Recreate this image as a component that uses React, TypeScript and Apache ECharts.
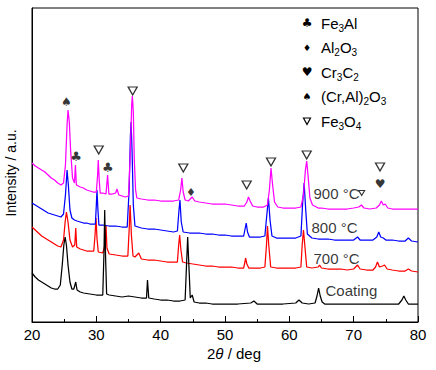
import React, { useEffect, useRef } from "react";
import * as echarts from "echarts";

const FONT = "'Liberation Sans', Arial, sans-serif";
const GLYPH_FONT = "'DejaVu Sans', sans-serif";

// 2θ (deg), intensity (a.u., offset traces)
const trace900: [number, number][] = [[20,159],[20.5,156],[21,154],[21.5,152],[22,150],[22.5,147],[23,144],[23.5,142],[24,139],[24.5,137],[24.9,139],[25.2,157],[25.45,197],[25.6,212],[25.8,200],[26,172],[26.3,144],[26.6,139],[26.75,157],[26.9,137],[27.5,135],[28,134],[28.5,132],[29,131],[29.5,130],[30,130],[30.2,147],[30.3,162],[30.45,142],[30.6,129],[31,129],[31.5,128],[31.75,147],[31.95,128],[32.5,128],[33,129],[33.2,133],[33.5,127],[34,126],[34.5,125],[35,126],[35.3,172],[35.5,218],[35.6,226],[35.75,210],[35.9,162],[36.1,132],[36.3,124],[37,123],[38,122],[39,122],[40,121],[41,121],[42,121],[42.8,122],[43.1,132],[43.3,144],[43.5,130],[43.8,122],[44.3,121],[44.9,125],[45.3,121],[46,120],[47,119],[48,118],[49,118],[50,118],[51,117],[52,116],[53,116],[53.4,120],[53.65,125],[53.9,121],[54.3,116],[55,115],[56,115],[56.6,117],[56.9,132],[57.15,154],[57.4,137],[57.7,120],[58.2,115],[59,114],[60,114],[61,114],[61.8,115],[62.2,127],[62.5,152],[62.7,161],[62.9,147],[63.2,124],[63.6,117],[64.5,114],[65,114],[66,113],[67,113],[68,113],[69,113],[70,114],[70.8,115],[71.2,117],[71.6,114],[72.5,113],[73.5,114],[74,117],[74.3,121],[74.6,117],[74.9,118],[75.3,114],[76,113],[77,113],[78,113],[79,113],[80,113]];

const trace800: [number, number][] = [[20,119],[20.5,117],[21,115],[21.5,113],[22,111],[22.5,109],[23,108],[23.5,107],[24,106],[24.5,105],[24.9,108],[25.2,127],[25.45,152],[25.65,137],[25.9,112],[26.2,104],[26.6,102],[27,101],[27.5,100],[28,99],[28.5,99],[29,98],[29.5,98],[29.85,98],[30,117],[30.1,132],[30.25,112],[30.4,97],[31,97],[32,96],[33,96],[34,95],[34.8,95],[35.1,132],[35.3,187],[35.4,200],[35.55,172],[35.75,117],[36,96],[37,94],[38,93],[39,93],[40,92],[41,91],[42,90],[42.6,91],[42.85,112],[43,122],[43.2,100],[43.5,90],[44.5,89],[45,89],[46,89],[47,88],[48,88],[49,87],[50,87],[51,86],[52,86],[52.9,86],[53.15,94],[53.3,99],[53.5,90],[53.8,85],[54.5,85],[55.5,85],[56.2,86],[56.5,107],[56.75,124],[57,102],[57.3,86],[58,84],[59,84],[60,84],[61,84],[61.8,86],[62.05,117],[62.3,139],[62.55,112],[62.8,88],[63.5,84],[64.5,83],[65,83],[66,83],[67,82],[68,82],[69,82],[70,82],[70.6,85],[71,82],[72,82],[73,82],[73.6,85],[73.9,90],[74.2,85],[74.6,84],[75,82],[76,82],[77,81],[78,81],[78.5,84],[79,81],[80,80]];

const trace700: [number, number][] = [[20,95],[20.5,92],[21,89],[21.5,86],[22,84],[22.5,82],[23,80],[23.5,78],[24,76],[24.5,75],[24.9,82],[25.15,100],[25.35,110],[25.6,100],[25.9,82],[26.3,75],[26.65,77],[26.8,94],[26.95,75],[27.5,73],[28,72],[28.5,71],[29,71],[29.6,71],[29.8,87],[29.95,104],[30.1,84],[30.3,70],[31,69],[31.35,77],[31.5,97],[31.65,74],[32,68],[33,67],[34,66],[34.9,66],[35.1,92],[35.25,117],[35.45,87],[35.7,66],[36,65],[36.6,69],[37,63],[38,62],[39,62],[40,61],[41,60],[42,60],[42.6,60],[42.8,77],[42.95,87],[43.15,72],[43.4,60],[44,59],[45,58],[46,57],[47,56],[48,56],[49,55],[50,55],[51,55],[52,54],[52.9,54],[53.1,60],[53.2,64],[53.4,58],[53.7,54],[54.5,54],[55.5,54],[56.2,55],[56.45,77],[56.6,96],[56.8,77],[57.1,55],[58,54],[59,54],[60,54],[61,54],[61.8,55],[62,77],[62.2,92],[62.4,77],[62.7,55],[63.5,54],[64.5,55],[64.7,57],[65,54],[66,53],[67,53],[68,53],[69,52],[70,53],[70.6,57],[71,53],[72,52],[73,52],[73.4,55],[73.7,60],[74,55],[74.5,56],[74.8,57],[75.2,53],[76,52],[77,51],[78,51],[78.5,53],[79,51],[80,50]];

const traceCoating: [number, number][] = [[20,49],[20.5,45],[21,42],[21.5,40],[22,38],[22.5,36],[23,34],[23.5,33],[24,33],[24.4,37],[24.7,57],[24.95,77],[25.15,85],[25.35,77],[25.6,57],[25.9,40],[26.2,33],[26.5,33],[26.8,40],[27,32],[27.5,30],[28,29],[29,28],[30,27],[31,27],[31.2,72],[31.3,112],[31.45,62],[31.6,28],[32,27],[33,26],[34,25],[35,26],[36,25],[37,24],[37.8,24],[37.95,42],[38.15,24],[39,23],[40,22],[41,22],[42,21],[43,21],[43.8,22],[44.05,62],[44.2,85],[44.35,62],[44.6,24],[44.9,27],[45.2,20],[46,19],[47,19],[48,18],[50,18],[52,18],[54,19],[54.5,21],[55,18],[57,18],[59,18],[61,19],[61.5,22],[62,19],[63,18],[64,19],[64.3,26],[64.55,34],[64.8,26],[65.1,20],[65.5,18],[67,18],[69,18],[71,18],[73,18],[75,18],[77,18],[77.5,22],[77.8,26],[78.1,22],[78.5,18],[80,18]];

// phase markers (2θ, height)
const markFe3Al: [number, number][] = [[26.85,166],[31.77,155]];
const markCrAl2O3: [number, number][] = [[25.35,220]];
const markAl2O3: [number, number][] = [[44.72,130]];
const markFe3O4: [number, number][] = [[30.37,172],[35.65,231],[43.52,154],[53.37,137],[57.15,160],[62.7,167],[74.1,155]];
const markFe3O4Small: [number, number][] = [[71.25,129]];
const markCr3C2: [number, number][] = [[74.1,138]];

const sampleLabels: { name: string; value: [number, number] }[] = [
  { name: "900 °C", value: [63.68, 129] },
  { name: "800 °C", value: [63.37, 95] },
  { name: "700 °C", value: [63.68, 64] },
  { name: "Coating", value: [65.55, 32] },
];

const legendRows: { glyph: string; size: number; text: string }[] = [
  { glyph: "♣", size: 12, text: "{n|Fe}{s|3}{n|Al}" },
  { glyph: "♦", size: 9, text: "{n|Al}{s|2}{n|O}{s|3}" },
  { glyph: "♥", size: 12, text: "{n|Cr}{s|3}{n|C}{s|2}" },
  { glyph: "♠", size: 10, text: "{n|(Cr,Al)}{s|2}{n|O}{s|3}" },
  { glyph: "", size: 10, text: "{n|Fe}{s|3}{n|O}{s|4}" },
];

const xTicks = { min: 20, max: 80, interval: 10 };

export default function App() {
  const ref = useRef<HTMLDivElement>(null);
  useEffect(() => {
    const chart = echarts.init(ref.current!, null, { renderer: "svg" });
    const line = (name: string, data: [number, number][], color: string, z: number) => ({
      type: "line",
      name,
      data,
      symbol: "none",
      showSymbol: false,
      silent: true,
      z,
      lineStyle: { color, width: 1.25 },
      itemStyle: { color },
    });
    const glyphs = (glyph: string, data: [number, number][], size: number) => ({
      type: "scatter",
      data,
      symbolSize: 1,
      silent: true,
      z: 10,
      itemStyle: { color: "rgba(0,0,0,0)" },
      label: {
        show: true,
        position: "inside",
        formatter: glyph,
        fontFamily: GLYPH_FONT,
        fontSize: size,
        color: "#000",
      },
    });
    const triangles = (data: [number, number][], w: number, h: number, bw: number) => ({
      type: "scatter",
      data,
      symbol: "triangle",
      symbolRotate: 180,
      symbolSize: [w, h],
      silent: true,
      z: 10,
      itemStyle: { color: "#fff", borderColor: "#000", borderWidth: bw },
    });
    const rich = {
      n: { fontSize: 15, fontFamily: FONT, color: "#000" },
      s: { fontSize: 10, fontFamily: FONT, color: "#000", padding: [10, 0, 0, 0] },
    };
    const legendChildren: any[] = [];
    legendRows.forEach((r, i) => {
      const y = 23 + i * 24.5;
      if (r.glyph) {
        legendChildren.push({
          type: "text",
          x: 307,
          y,
          style: { text: r.glyph, font: `${r.size}px ${GLYPH_FONT}`, fill: "#000", align: "center", verticalAlign: "middle" },
        });
      } else {
        legendChildren.push({
          type: "polygon",
          shape: { points: [[303.5, y - 3], [310.5, y - 3], [307, y + 3.5]] },
          style: { fill: "#fff", stroke: "#000", lineWidth: 1.2 },
        });
      }
      legendChildren.push({
        type: "text",
        x: 321,
        y,
        style: { text: r.text, rich, fill: "#000", align: "left", verticalAlign: "middle" },
      });
    });

    chart.setOption({
      animation: false,
      backgroundColor: "#fff",
      grid: { left: 32, top: 8, right: 18, bottom: 48, show: true, borderColor: "#000", borderWidth: 1 },
      xAxis: {
        type: "value",
        min: xTicks.min,
        max: xTicks.max,
        interval: xTicks.interval,
        axisLine: { show: true, lineStyle: { color: "#000", width: 1 } },
        axisTick: { show: true, inside: true, length: 6, lineStyle: { color: "#000" } },
        minorTick: { show: true, splitNumber: 2, length: 3, lineStyle: { color: "#000" } },
        axisLabel: { color: "#000", fontSize: 15, fontFamily: FONT, margin: 5 },
        splitLine: { show: false },
      },
      yAxis: {
        type: "value",
        min: 0,
        max: 314,
        axisLine: { show: true, lineStyle: { color: "#000", width: 1 } },
        axisTick: { show: false },
        axisLabel: { show: false },
        splitLine: { show: false },
      },
      graphic: [
        {
          type: "text",
          x: 11,
          y: 173,
          rotation: Math.PI / 2,
          style: { text: "Intensity / a.u.", font: `14px ${FONT}`, fill: "#000", align: "center", verticalAlign: "middle" },
        },
        {
          type: "text",
          x: 207,
          y: 353,
          style: {
            text: "{n|2}{i|θ}{n| / deg}",
            rich: {
              n: { fontSize: 15, fontFamily: FONT, color: "#000" },
              i: { fontSize: 15, fontFamily: FONT, fontStyle: "italic", color: "#000" },
            },
            align: "left",
            verticalAlign: "middle",
          },
        },
        { type: "group", children: legendChildren },
      ],
      series: [
        line("700 °C", trace700, "#ff0000", 2),
        line("800 °C", trace800, "#0000ff", 3),
        line("900 °C", trace900, "#ff00ff", 4),
        line("Coating", traceCoating, "#000000", 5),
        glyphs("♣", markFe3Al, 13),
        glyphs("♠", markCrAl2O3, 12),
        glyphs("♦", markAl2O3, 11),
        triangles(markFe3O4, 9, 8, 1.3),
        triangles(markFe3O4Small, 6, 5, 1.1),
        glyphs("♥", markCr3C2, 12),
        {
          type: "scatter",
          data: sampleLabels,
          symbolSize: 1,
          silent: true,
          z: 10,
          itemStyle: { color: "rgba(0,0,0,0)" },
          label: {
            show: true,
            position: "right",
            distance: 0,
            formatter: "{b}",
            fontFamily: FONT,
            fontSize: 15,
            color: "#000",
          },
        },
      ],
    });
    return () => chart.dispose();
  }, []);
  return <div ref={ref} style={{ position: "fixed", left: 0, top: 0, width: 436, height: 370, background: "#fff" }} />;
}
